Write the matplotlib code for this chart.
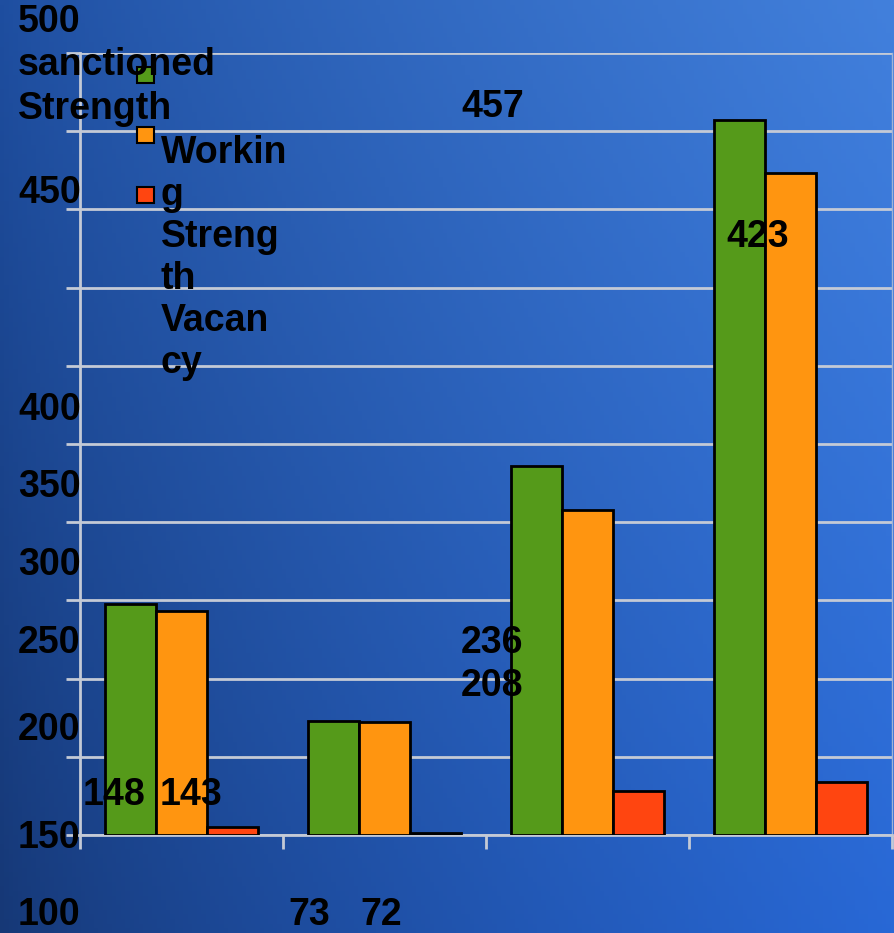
import numpy as np
import matplotlib
matplotlib.use("Agg")
import matplotlib.pyplot as plt

plt.rcParams['font.family'] = ['Liberation Sans', 'DejaVu Sans']

# data
groups = ["1", "2", "3", "4"]
sanctioned = [148, 73, 236, 457]
working = [143, 72, 208, 423]
vacancy = [5, 1, 28, 34]
series_names = ["sanctioned\nStrength", "Workin\ng\nStreng\nth\nVacan\ncy"]
series_colors = ["#559a1a", "#ff9510", "#ff4510"]
ytick_labels = ["500", "450", "400", "350", "300", "250", "200", "150", "100"]

W, H = 895, 933
fig = plt.figure(figsize=(W / 100, H / 100), dpi=100)

# blue gradient background
bg = fig.add_axes([0, 0, 1, 1], zorder=-10)
bg.axis("off")
tl = np.array([30, 78, 160]) / 255
tr = np.array([66, 128, 220]) / 255
bl = np.array([22, 56, 118]) / 255
br = np.array([40, 104, 214]) / 255
u = np.linspace(0, 1, 200)[None, :, None]
v = np.linspace(0, 1, 200)[:, None, None]
u2 = u ** 0.8
grad = (1 - v) * ((1 - u2) * tl + u2 * tr) + v * ((1 - u2) * bl + u2 * br)
bg.imshow(grad, aspect="auto", extent=[0, 1, 0, 1], origin="upper")
bg.set_xlim(0, 1)
bg.set_ylim(0, 1)


def px(x, y):
    return x / W, 1 - y / H


left, right, top, bottom = 80, 892, 53, 835
ax = fig.add_axes([left / W, 1 - bottom / H, (right - left) / W, (bottom - top) / H])
ax.set_facecolor("none")

x = np.arange(len(groups))
w = 0.25
ax.bar(x - w, sanctioned, w, color=series_colors[0], edgecolor="black", linewidth=2, zorder=3)
ax.bar(x, working, w, color=series_colors[1], edgecolor="black", linewidth=2, zorder=3)
ax.bar(x + w, vacancy, w, color=series_colors[2], edgecolor="black", linewidth=2, zorder=3)

ax.set_xlim(-0.5, len(groups) - 0.5)
ax.set_ylim(0, 500)
ax.set_yticks(np.arange(0, 501, 50))
ax.set_xticks(np.arange(-0.5, len(groups), 1))
ax.set_xticklabels([])
ax.set_yticklabels([])
ax.grid(axis="y", color="#c4cad6", linewidth=2)
ax.set_axisbelow(True)
ax.tick_params(axis="y", length=10, width=2, color="#c4cad6", direction="out")
ax.tick_params(axis="x", length=10, width=2, color="#c4cad6", direction="out")
for s in ["left", "bottom"]:
    ax.spines[s].set_color("#c4cad6")
    ax.spines[s].set_linewidth(2)
ax.spines["right"].set_color("#9fb4d8")
ax.spines["right"].set_linewidth(1)
ax.spines["top"].set_visible(False)

fs = 27
tkw = dict(fontsize=fs, fontweight="bold", color="black", ha="left", va="center")

# misplaced axis labels, as in the picture
ytick_pos = [22, 193, 410, 487, 565, 643, 730, 838, 915]
for lab, yy in zip(ytick_labels, ytick_pos):
    fig.text(*px(18, yy), lab, **tkw)

# legend (broken layout)
fig.text(*px(18, 87), series_names[0], linespacing=1.3, **tkw)
fig.text(*px(161, 258), series_names[1], linespacing=1.21, **tkw)
for c, yy in zip(series_colors, [75, 135, 195]):
    fig.patches.append(plt.Rectangle(px(137, yy + 8), 17 / W, 16 / H, transform=fig.transFigure,
                                     facecolor=c, edgecolor="black", linewidth=1.5))

# data labels (misplaced)
fig.text(*px(83, 795), str(sanctioned[0]), **tkw)
fig.text(*px(160, 795), str(working[0]), **tkw)
fig.text(*px(288, 915), str(sanctioned[1]), **tkw)
fig.text(*px(360, 915), str(working[1]), **tkw)
fig.text(*px(461, 643), str(sanctioned[2]), **tkw)
fig.text(*px(461, 686), str(working[2]), **tkw)
fig.text(*px(461, 107), str(sanctioned[3]), **tkw)
fig.text(*px(726, 237), str(working[3]), **tkw)

plt.savefig("out.png", dpi=100)
plt.close()
